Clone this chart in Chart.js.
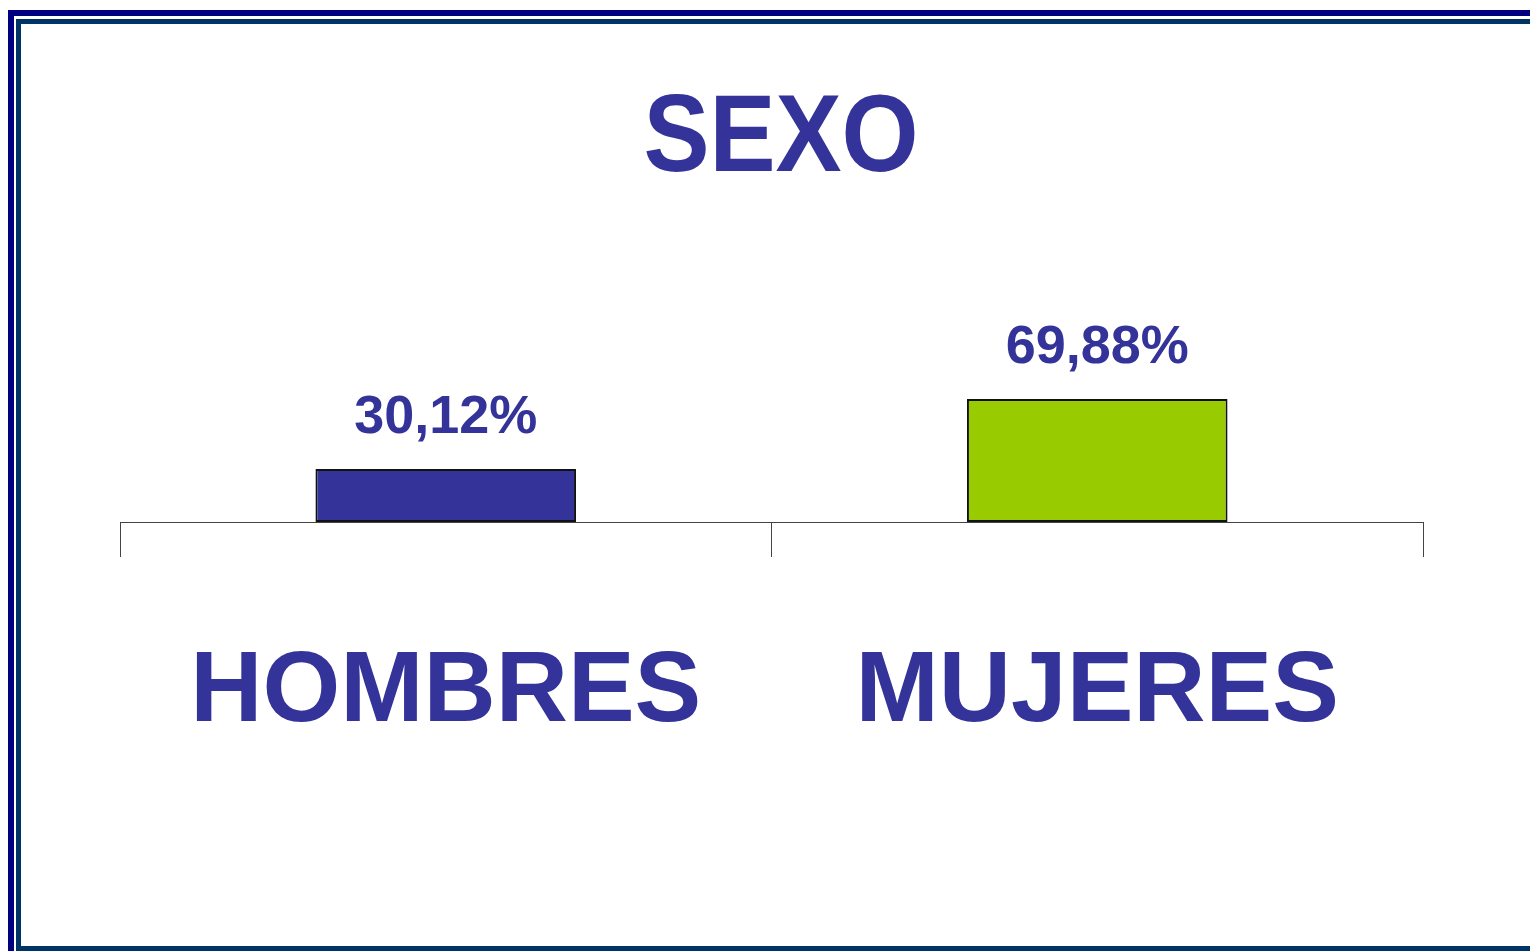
<!DOCTYPE html>
<html>
<head>
<meta charset="utf-8">
<script src="https://cdn.jsdelivr.net/npm/chart.js@4.4.1/dist/chart.umd.min.js"></script>
<style>
  html, body { margin: 0; padding: 0; background: #fff; overflow: hidden; }
  body { width: 1530px; height: 951px; position: relative; }
  .frame-outer {
    position: absolute; left: 8px; top: 10px; width: 2000px; height: 2000px;
    border: 6px solid #000080; box-sizing: border-box;
  }
  .frame-inner {
    position: absolute; left: 16px; top: 19px; width: 2000px; height: 932px;
    border: 5px solid #003366; box-sizing: border-box;
  }
  #title {
    position: absolute; left: 581px; top: 78px; width: 400px; margin: 0;
    text-align: center; color: #333399;
    font: bold 110px/1 "Liberation Sans", Arial, sans-serif;
    transform: scaleX(0.9);
  }
  #wrap { position: absolute; left: 0; top: 0; width: 1530px; height: 951px; }
</style>
</head>
<body>
<div class="frame-outer"></div>
<div class="frame-inner"></div>
<div id="wrap"><canvas id="sexoChart" width="1530" height="951"></canvas></div>
<h1 id="title">SEXO</h1>

<script>
const categories = ['HOMBRES', 'MUJERES'];
const percentValues = [30.12, 69.88];
const barColors = ['#333399', '#99CC00'];

// etiquetas de valor encima de cada barra (formato con coma decimal)
const valueLabels = {
    id: 'valueLabels',
    afterDatasetsDraw(chart) {
        const ctx = chart.ctx;
        const meta = chart.getDatasetMeta(0);
        ctx.save();
        ctx.fillStyle = '#333399';
        ctx.font = 'bold 54px "Liberation Sans", Arial, sans-serif';
        ctx.textAlign = 'center';
        ctx.textBaseline = 'alphabetic';
        meta.data.forEach((bar, i) => {
            const txt = percentValues[i].toFixed(2).replace('.', ',') + '%';
            ctx.fillText(txt, bar.x, bar.y - 36);
        });
        ctx.restore();
    }
};

Chart.defaults.font.family = '"Liberation Sans", Arial, sans-serif';

const ctx = document.getElementById('sexoChart').getContext('2d');
new Chart(ctx, {
    type: 'bar',
    data: {
        labels: categories,
        datasets: [{
            data: percentValues,
            backgroundColor: barColors,
            borderColor: '#111',
            borderWidth: 2,
            borderSkipped: false,
            barPercentage: 0.4,
            categoryPercentage: 1.0
        }]
    },
    options: {
        responsive: false,
        animation: false,
        layout: { padding: { left: 120, right: 107, top: 346, bottom: 199 } },
        plugins: {
            legend: { display: false },
            tooltip: { enabled: false },
            title: { display: false }
        },
        scales: {
            x: {
                // altura fija del eje para que las etiquetas grandes no se recorten
                afterFit(scale) { scale.height = 230; },
                grid: {
                    offset: true,
                    drawOnChartArea: false,
                    drawTicks: true,
                    tickLength: 35,
                    color: '#444',
                    lineWidth: 1
                },
                border: { display: true, color: '#444', width: 1 },
                ticks: {
                    color: '#333399',
                    padding: 86.5,
                    font: { size: 100, weight: 'bold', lineHeight: 1.0 }
                }
            },
            y: {
                display: false,
                min: 0,
                max: 100
            }
        }
    },
    plugins: [valueLabels]
});
</script>
</body>
</html>
